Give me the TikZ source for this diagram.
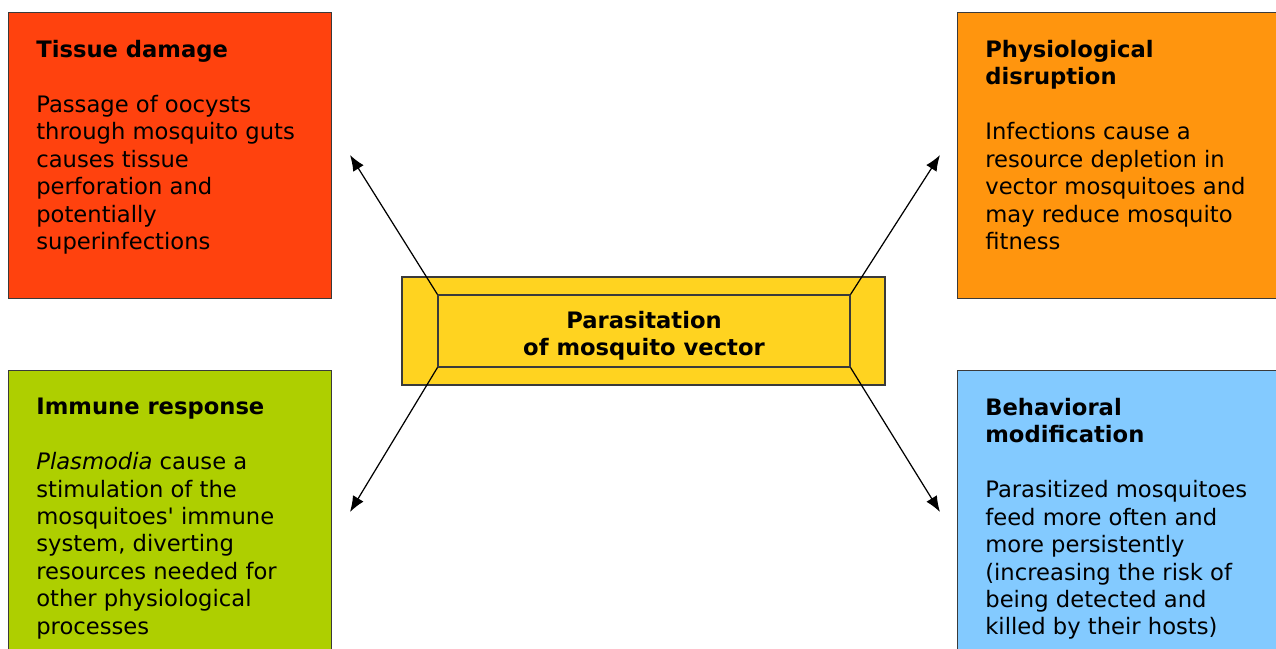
\documentclass[tikz,border=0pt]{standalone}
\usepackage{fontspec}
\setmainfont{DejaVu Sans}[Ligatures=TeXOff]
\usepackage{xcolor}
\usepackage{tikz}
\usetikzlibrary{calc,arrows.meta}
\definecolor{tissuered}{HTML}{FF420E}
\definecolor{physorange}{HTML}{FF950E}
\definecolor{immunegreen}{HTML}{AECF00}
\definecolor{behavblue}{HTML}{83CAFF}
\definecolor{centeryellow}{HTML}{FFD320}
\definecolor{edge}{HTML}{3A3A3A}
\def\px{0.02cm}
\tikzset{
  card/.style={draw=edge, line width=0.6pt, anchor=north west, inner sep=0pt,
    minimum width=323*\px, minimum height=286*\px},
  cardtext/.style={anchor=north west, inner sep=0pt, align=left,
    font=\fontsize{12.9}{15.6}\selectfont},
  bevel/.style={draw=edge, line width=0.6pt, fill=centeryellow, inner sep=0pt},
  link/.style={draw=black, line width=0.7pt, -{Latex[length=9pt,width=7pt]}},
}

\begin{document}
\begin{tikzpicture}[x=0.02cm, y=-0.02cm]
  \useasboundingbox (0,0) rectangle (1276,649);
  % four effect cards
  \node[card, fill=tissuered] (tissue) at (8,12) {};
  \node[card, fill=physorange, minimum width=340*\px] (physio) at (957,12) {};
  \node[card, fill=immunegreen, minimum height=300*\px] (immune) at (8,370) {};
  \node[card, fill=behavblue, minimum width=340*\px, minimum height=300*\px] (behav) at (957,370) {};
  \node[cardtext] (tissue-t) at ([shift={(28,28)}]tissue.north west)
    {\textbf{Tissue damage}\\[15.6pt]Passage of oocysts\\through mosquito guts\\causes tissue\\perforation and\\potentially\\superinfections};
  \node[cardtext] (physio-t) at ([shift={(28,28)}]physio.north west)
    {\textbf{Physiological}\\\textbf{disruption}\\[15.6pt]Infections cause a\\resource depletion in\\vector mosquitoes and\\may reduce mosquito\\fitness};
  \node[cardtext] (immune-t) at ([shift={(28,28)}]immune.north west)
    {\textbf{Immune response}\\[15.6pt]\textit{Plasmodia} cause a\\stimulation of the\\mosquitoes' immune\\system, diverting\\resources needed for\\other physiological\\processes};
  \node[cardtext] (behav-t) at ([shift={(28,28)}]behav.north west)
    {\textbf{Behavioral}\\\textbf{modification}\\[15.6pt]Parasitized mosquitoes\\feed more often and\\more persistently\\(increasing the risk of\\being detected and\\killed by their hosts)};
  % central bevelled box
  \node[bevel, minimum width=483*\px, minimum height=108*\px] (parasit-out) at (643.5,331) {};
  \node[bevel, minimum width=412*\px, minimum height=72*\px, align=center, text height=31pt,
    font=\fontsize{12.9}{15.6}\selectfont\bfseries] (parasit) at (644,331)
    {Parasitation\\of mosquito vector};
  % arrow ends
  \coordinate (tip-tl) at (350,155);
  \coordinate (tip-tr) at (940,155);
  \coordinate (tip-bl) at (350,512);
  \coordinate (tip-br) at (940,512);
  \draw[link] (parasit.north west) -- (tip-tl);
  \draw[link] (parasit.north east) -- (tip-tr);
  \draw[link] (parasit.south west) -- (tip-bl);
  \draw[link] (parasit.south east) -- (tip-br);
\end{tikzpicture}
\end{document}
